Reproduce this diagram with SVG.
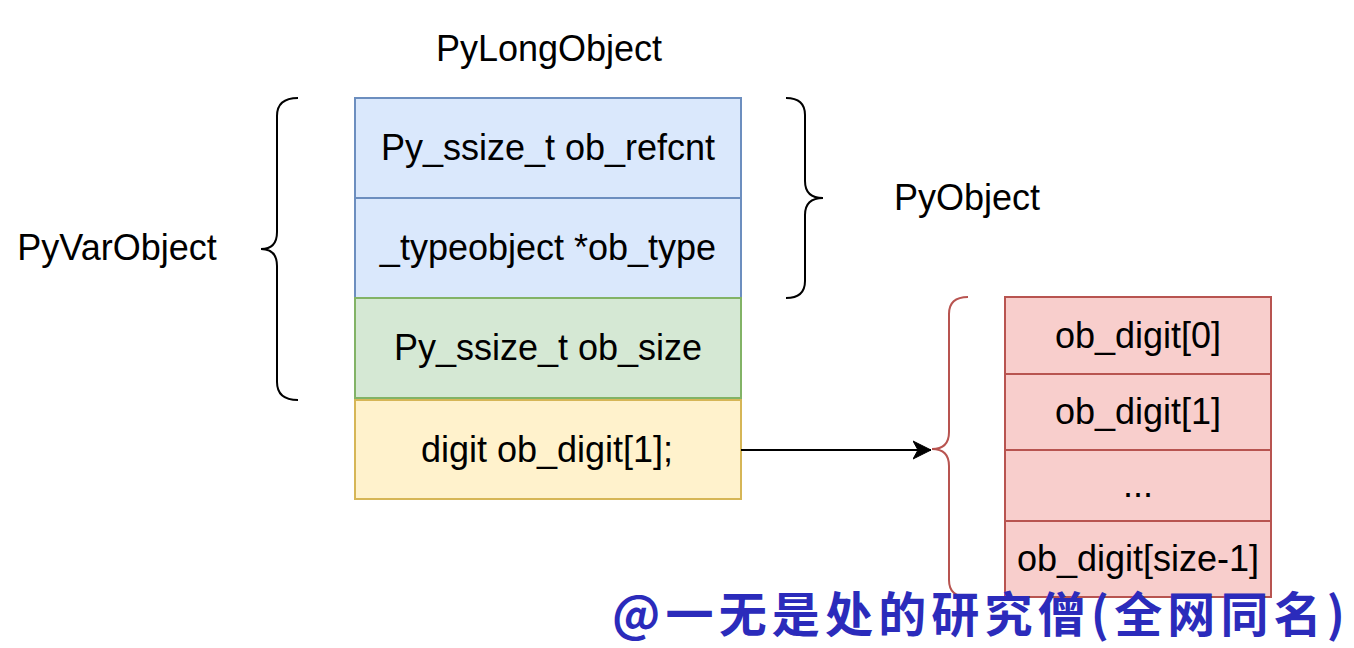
<svg xmlns="http://www.w3.org/2000/svg" width="1354" height="648" viewBox="0 0 1354 648">
<style>
  .t { font-family: "Liberation Sans", Arial, Helvetica, sans-serif; font-size: 36px; fill: #000; text-anchor: middle; }
  .blue { fill: #dae8fc; stroke: #6c8ebf; stroke-width: 2; }
  .green { fill: #d5e8d4; stroke: #82b366; stroke-width: 2; }
  .yellow { fill: #fff2cc; stroke: #d6b656; stroke-width: 2; }
  .red { fill: #f8cecc; stroke: #b85450; stroke-width: 2; }
  .brace { fill: none; stroke: #000; stroke-width: 2; }
  .rbrace { fill: none; stroke: #b85450; stroke-width: 2; }
  .wm { font-family: "Noto Sans CJK SC", "Noto Sans", sans-serif; font-size: 48px; font-weight: bold; fill: #2b2bbb; }
</style>
<defs>
  <marker id="arr" viewBox="0 0 20 20" refX="18" refY="10" markerWidth="20" markerHeight="20" markerUnits="userSpaceOnUse" orient="auto">
    <path d="M0,1 L18,10 L0,19 L5,10 Z" fill="#000" stroke="#000" stroke-width="1"/>
  </marker>
</defs>
<rect width="1354" height="648" fill="#fff"/>

<g id="labels">
  <text class="t" x="549" y="61">PyLongObject</text>
  <text class="t" x="967" y="210">PyObject</text>
  <text class="t" x="117" y="260">PyVarObject</text>
</g>

<g id="pylong">
  <g id="ob_refcnt"><rect class="blue" x="355" y="98" width="386" height="100"/><text class="t" x="548" y="160">Py_ssize_t ob_refcnt</text></g>
  <g id="ob_type"><rect class="blue" x="355" y="198" width="386" height="100"/><text class="t" x="548" y="260">_typeobject *ob_type</text></g>
  <g id="ob_size"><rect class="green" x="355" y="298" width="386" height="100"/><text class="t" x="548" y="360">Py_ssize_t ob_size</text></g>
  <g id="ob_digit"><rect class="yellow" x="355" y="400" width="386" height="99"/><text class="t" x="547" y="462">digit ob_digit[1];</text></g>
</g>

<g id="digits">
  <g id="d0"><rect class="red" x="1005" y="297" width="266" height="77"/><text class="t" x="1138" y="348">ob_digit[0]</text></g>
  <g id="d1"><rect class="red" x="1005" y="374" width="266" height="76"/><text class="t" x="1138" y="424">ob_digit[1]</text></g>
  <g id="d2"><rect class="red" x="1005" y="450" width="266" height="71"/><text class="t" x="1138" y="497">...</text></g>
  <g id="d3"><rect class="red" x="1005" y="521" width="266" height="76"/><text class="t" x="1138" y="571">ob_digit[size-1]</text></g>
</g>

<g id="braces">
  <path id="brace-var" class="brace" d="M298,98 Q277,98 277,116 L277,232 Q277,249 261,249 Q277,249 277,266 L277,382 Q277,400 298,400"/>
  <path id="brace-obj" class="brace" d="M786,98 Q805,98 805,115 L805,181 Q805,198 823,198 Q805,198 805,215 L805,281 Q805,298 786,298"/>
  <path id="brace-digits" class="rbrace" d="M968,297 Q949,297 949,314 L949,432 Q949,449 932,449 Q949,449 949,466 L949,580 Q949,597 968,597"/>
</g>

<g id="connectors">
  <line x1="741" y1="450" x2="931" y2="450" stroke="#000" stroke-width="2" marker-end="url(#arr)"/>
</g>

<text class="wm" x="612" y="632" textLength="733">@一无是处的研究僧(全网同名)</text>
</svg>
